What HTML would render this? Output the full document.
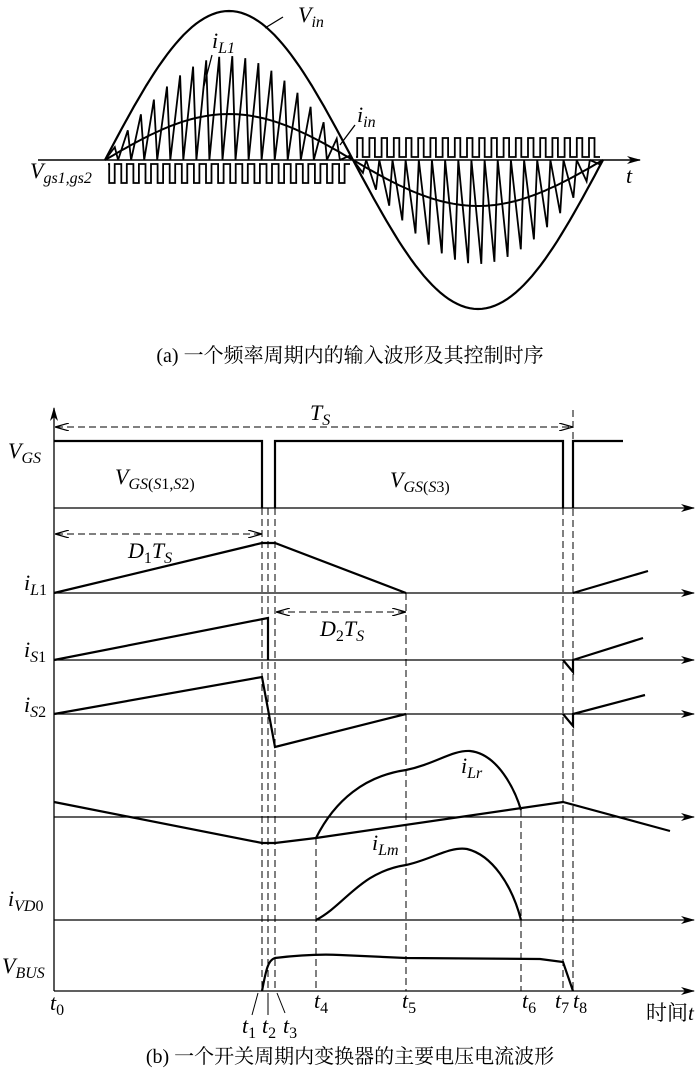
<!DOCTYPE html>
<html><head><meta charset="utf-8"><style>
html,body{margin:0;padding:0;background:#fff;}
svg{display:block;}
text{font-family:"Liberation Serif","Noto Serif CJK SC",serif;fill:#000;}
.it{font-style:italic;}
</style></head><body>
<svg id="s" width="700" height="1074" viewBox="0 0 700 1074" xmlns="http://www.w3.org/2000/svg">
<defs>
<marker id="ar" markerWidth="14" markerHeight="8" refX="13" refY="4" orient="auto" markerUnits="userSpaceOnUse"><path d="M0,0 L14,4 L0,8 L4,4 Z" fill="#000"/></marker>
<marker id="ad" markerWidth="14" markerHeight="8" refX="13" refY="4" orient="auto-start-reverse" markerUnits="userSpaceOnUse"><path d="M0,0 L14,4 L0,8" fill="none" stroke="#000" stroke-width="1.2"/></marker>
</defs>
<g id="top" fill="none" stroke="#000" stroke-width="2"></g>
<line x1="38" y1="160" x2="640" y2="160" stroke="#000" stroke-width="1.5" marker-end="url(#ar)"/>
<text x="298" y="22" class="it" font-size="22">V<tspan font-size="16" dy="5">in</tspan></text>
<line x1="283" y1="17" x2="265" y2="28" stroke="#000" stroke-width="1.3"/>
<text x="212" y="48" class="it" font-size="22">i<tspan font-size="16" dy="5">L</tspan><tspan font-size="16">1</tspan></text>
<line x1="212" y1="55" x2="203" y2="90" stroke="#000" stroke-width="1.3"/>
<text x="357" y="122" class="it" font-size="22">i<tspan font-size="16" dy="5">in</tspan></text>
<line x1="355" y1="125" x2="340" y2="145" stroke="#000" stroke-width="1.3"/>
<text x="30" y="178" class="it" font-size="22">V<tspan font-size="16" dy="5">gs1,gs2</tspan></text>
<text x="626" y="183" class="it" font-size="22">t</text>
<text x="350" y="362" font-size="20" text-anchor="middle">(a) 一个频率周期内的输入波形及其控制时序</text>

<g stroke="#000" stroke-width="1.3" fill="none">
<line x1="54" y1="991" x2="54" y2="408" marker-end="url(#ar)"/>
<line x1="54" y1="508" x2="694" y2="508" marker-end="url(#ar)"/>
<line x1="54" y1="593" x2="694" y2="593" marker-end="url(#ar)"/>
<line x1="54" y1="660" x2="694" y2="660" marker-end="url(#ar)"/>
<line x1="54" y1="714" x2="694" y2="714" marker-end="url(#ar)"/>
<line x1="54" y1="817" x2="694" y2="817" marker-end="url(#ar)"/>
<line x1="54" y1="920" x2="694" y2="920" marker-end="url(#ar)"/>
<line x1="54" y1="991" x2="694" y2="991" marker-end="url(#ar)"/>
</g>
<g stroke="#000" stroke-width="1" fill="none" stroke-dasharray="7,4">
<line x1="56" y1="427" x2="572" y2="427" marker-start="url(#ad)" marker-end="url(#ad)"/>
<line x1="56" y1="534" x2="261" y2="534" marker-start="url(#ad)" marker-end="url(#ad)"/>
<line x1="277" y1="612" x2="405" y2="612" marker-start="url(#ad)" marker-end="url(#ad)"/>
<line x1="262" y1="508" x2="262" y2="991"/>
<line x1="268" y1="508" x2="268" y2="991"/>
<line x1="275" y1="508" x2="275" y2="991"/>
<line x1="316" y1="838" x2="316" y2="991"/>
<line x1="406" y1="593" x2="406" y2="991"/>
<line x1="521" y1="810" x2="521" y2="991"/>
<line x1="563" y1="508" x2="563" y2="991"/>
<line x1="573" y1="410" x2="573" y2="991"/>
</g>
<g stroke="#000" stroke-width="2.2" fill="none" stroke-linejoin="miter">
<polyline points="54,441 262,441 262,508"/>
<polyline points="275,508 275,441 563,441 563,508"/>
<polyline points="573,508 573,441 623,441"/>
<polyline points="54,593 262,543 275,543 406,593"/>
<line x1="573" y1="593" x2="648" y2="571"/>
<polyline points="54,660 268,618 268,660"/>
<polyline points="563,660 573,672 573,660 643,638"/>
<polyline points="54,714 262,677 275,747 406,714"/>
<polyline points="563,714 573,726 573,714 645,695"/>
<polyline points="54,802 262,843 275,843 316,838 563,802 670,831"/>
<path d="M316,838 C335,800 365,776 406,770 C435,764 452,750 470,751 C498,754 515,790 521,810"/>
<path d="M316,920 C345,905 360,872 406,865 C430,860 450,846 467,849 C492,855 512,885 521,920"/>
<path d="M262,991 C266,970 268,960 275,958 C300,955 320,954 340,955 L406,958 L540,959 L563,962 L573,991"/>
</g>
<text x="310" y="420" class="it" font-size="22">T<tspan font-size="16" dy="5">S</tspan></text>
<text x="8" y="458" class="it" font-size="22">V<tspan font-size="16" dy="5">GS</tspan></text>
<text x="115" y="484" class="it" font-size="22">V<tspan font-size="16" dy="5">GS</tspan><tspan font-size="16" font-style="normal">(</tspan><tspan font-size="16">S</tspan><tspan font-size="16" font-style="normal">1,</tspan><tspan font-size="16">S</tspan><tspan font-size="16" font-style="normal">2)</tspan></text>
<text x="390" y="487" class="it" font-size="22">V<tspan font-size="16" dy="5">GS</tspan><tspan font-size="16" font-style="normal">(</tspan><tspan font-size="16">S</tspan><tspan font-size="16" font-style="normal">3)</tspan></text>
<text x="128" y="558" class="it" font-size="22">D<tspan font-size="16" dy="5" font-style="normal">1</tspan><tspan dy="-5">T</tspan><tspan font-size="16" dy="5">S</tspan></text>
<text x="320" y="636" class="it" font-size="22">D<tspan font-size="16" dy="5" font-style="normal">2</tspan><tspan dy="-5">T</tspan><tspan font-size="16" dy="5">S</tspan></text>
<text x="24" y="590" class="it" font-size="22">i<tspan font-size="16" dy="5">L</tspan><tspan font-size="16" font-style="normal">1</tspan></text>
<text x="24" y="657" class="it" font-size="22">i<tspan font-size="16" dy="5">S</tspan><tspan font-size="16" font-style="normal">1</tspan></text>
<text x="24" y="712" class="it" font-size="22">i<tspan font-size="16" dy="5">S</tspan><tspan font-size="16" font-style="normal">2</tspan></text>
<text x="8" y="906" class="it" font-size="22">i<tspan font-size="16" dy="5">VD</tspan><tspan font-size="16" font-style="normal">0</tspan></text>
<text x="2" y="973" class="it" font-size="22">V<tspan font-size="16" dy="5">BUS</tspan></text>
<text x="461" y="773" class="it" font-size="22">i<tspan font-size="16" dy="5">Lr</tspan></text>
<text x="372" y="850" class="it" font-size="22">i<tspan font-size="16" dy="5">Lm</tspan></text>
<g font-size="22" class="it">
<text x="50" y="1010">t<tspan font-size="16" dy="5" font-style="normal">0</tspan></text>
<text x="242" y="1033">t<tspan font-size="16" dy="5" font-style="normal">1</tspan></text>
<text x="262" y="1033">t<tspan font-size="16" dy="5" font-style="normal">2</tspan></text>
<text x="283" y="1033">t<tspan font-size="16" dy="5" font-style="normal">3</tspan></text>
<text x="314" y="1008">t<tspan font-size="16" dy="5" font-style="normal">4</tspan></text>
<text x="402" y="1008">t<tspan font-size="16" dy="5" font-style="normal">5</tspan></text>
<text x="522" y="1008">t<tspan font-size="16" dy="5" font-style="normal">6</tspan></text>
<text x="555" y="1008">t<tspan font-size="16" dy="5" font-style="normal">7</tspan></text>
<text x="573" y="1008">t<tspan font-size="16" dy="5" font-style="normal">8</tspan></text>
</g>
<line x1="258" y1="993" x2="252" y2="1015" stroke="#000" stroke-width="1"/>
<line x1="268" y1="993" x2="268" y2="1015" stroke="#000" stroke-width="1"/>
<line x1="277" y1="993" x2="285" y2="1013" stroke="#000" stroke-width="1"/>
<text x="646" y="1020" font-size="21">时间<tspan class="it">t</tspan></text>
<text x="350" y="1063" font-size="20" text-anchor="middle">(b) 一个开关周期内变换器的主要电压电流波形</text>
</svg>
<script>
(function(){
var g=document.getElementById('top');var NS='http://www.w3.org/2000/svg';
function P(d,w){var p=document.createElementNS(NS,'path');p.setAttribute('d',d);if(w)p.setAttribute('stroke-width',w);g.appendChild(p);}
var x0=105,x1=353,x2=603,y0=160;
function half(a,b,s){var d='',e='';for(var i=0;i<=60;i++){var t=i/60,x=a+(b-a)*t,y=y0-s*149*Math.sin(Math.PI*t);d+=(i?'L':'M')+x.toFixed(1)+','+y.toFixed(1);var yi=y0-s*46*Math.sin(Math.PI*t);e+=(i?'L':'M')+x.toFixed(1)+','+yi.toFixed(1);}P(d,2.2);P(e,2);
 var n=19,w=(b-a)/n,s2='';for(var k=0;k<n;k++){var xa=a+k*w,xp=xa+w*0.75,amp=104*Math.sin(Math.PI*(xp-a)/(b-a));s2+='M'+xa.toFixed(1)+','+y0+'L'+xp.toFixed(1)+','+(y0-s*amp).toFixed(1)+'L'+(xa+w).toFixed(1)+','+y0;}P(s2,1.8);}
half(x0,x1,1);half(x1,x2,-1);
function sq(a,b,hi,lo,n){var w=(b-a)/n,d='M'+a+','+hi;for(var k=0;k<n;k++){var xa=a+k*w;d+='L'+(xa+w*0.1).toFixed(1)+','+hi+'L'+(xa+w*0.1).toFixed(1)+','+lo+'L'+(xa+w*0.55).toFixed(1)+','+lo+'L'+(xa+w*0.55).toFixed(1)+','+hi+'L'+(xa+w).toFixed(1)+','+hi;}P(d,1.8);}
sq(108,350,164,183,20);sq(356,600,157,138,20);
})();
</script>
</body></html>
